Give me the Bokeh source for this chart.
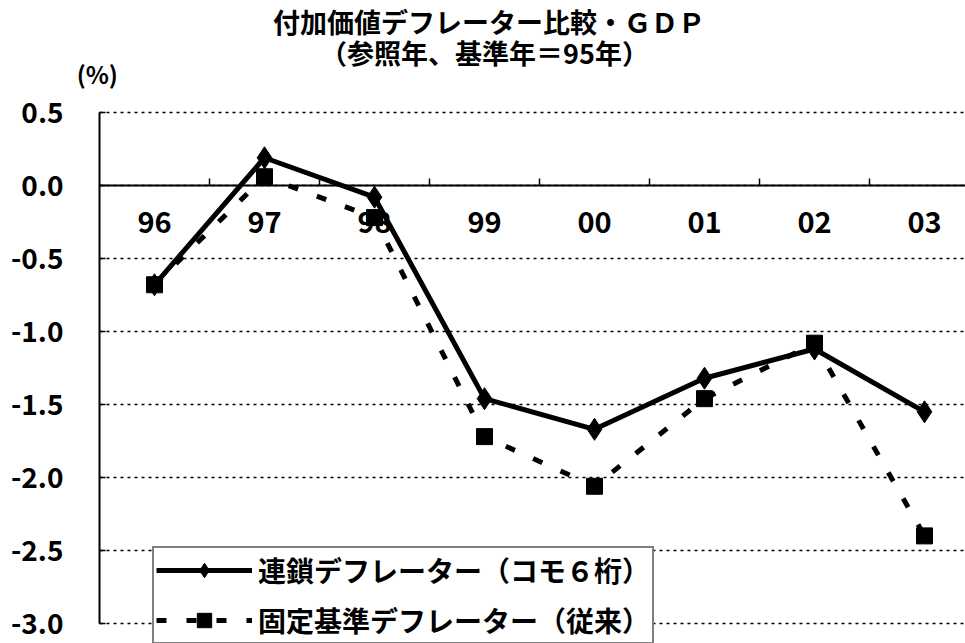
from bokeh.plotting import figure
from bokeh.models import (LinearAxis, FixedTicker, Range1d, Legend, Label,
                          LegendItem, ColumnDataSource)
from bokeh.embed import file_html
from bokeh.resources import INLINE

# ---- data ----
years = ["96", "97", "98", "99", "00", "01", "02", "03"]
chain = [-0.68, 0.19, -0.08, -1.46, -1.67, -1.32, -1.12, -1.55]
fixed = [-0.68, 0.06, -0.22, -1.72, -2.06, -1.46, -1.08, -2.40]
y_ticks = [0.5, 0.0, -0.5, -1.0, -1.5, -2.0, -2.5, -3.0]
y_tick_labels = ["0.5", "0.0", "-0.5", "-1.0", "-1.5", "-2.0", "-2.5", "-3.0"]
title_line1 = "付加価値デフレーター比較・ＧＤＰ"
title_line2 = "（参照年、基準年＝95年）"
unit_label = "(%)"
series_names = ["連鎖デフレーター（コモ６桁）", "固定基準デフレーター（従来）"]

FONT = "Noto Sans CJK JP"
W, H = 965, 643
xi = list(range(len(years)))

# view: the plot frame spans the whole canvas so titles and legend are not clipped
X0, X1 = -1.4, -1.4 + W / 110.0
Y0, Y1 = -3.0 - 20 / 146.0, 0.5 + 112 / 146.0

p = figure(width=W, height=H, title=None,
           x_range=Range1d(X0, X1), y_range=Range1d(Y0, Y1),
           x_axis_type=None, y_axis_type=None,
           toolbar_location=None, output_backend="svg",
           min_border_left=0, min_border_right=0,
           min_border_top=0, min_border_bottom=0)
p.outline_line_color = None
p.background_fill_color = "white"
p.border_fill_color = "white"

# dotted horizontal grid lines at the y ticks, from the y axis to the right edge
p.segment(x0=[xi[0] - 0.5] * len(y_ticks), x1=[X1] * len(y_ticks), y0=y_ticks, y1=y_ticks,
          line_color="black", line_width=1.5, line_dash="3 4")

# y axis at the left edge of the first category
yaxis = LinearAxis(fixed_location=xi[0] - 0.5, bounds=(min(y_ticks), max(y_ticks)),
                   ticker=FixedTicker(ticks=y_ticks),
                   major_label_overrides=dict(zip(y_ticks, y_tick_labels)),
                   axis_line_color="black", axis_line_width=2,
                   major_tick_in=6, major_tick_out=0, minor_tick_in=0, minor_tick_out=0,
                   major_tick_line_color="black", major_tick_line_width=1.5,
                   major_label_standoff=36,
                   major_label_text_font=FONT, major_label_text_font_size="28px",
                   major_label_text_font_style="bold", major_label_text_color="black")
p.add_layout(yaxis, "left")

# x axis, drawn at y = 0
xaxis = LinearAxis(fixed_location=0, bounds=(xi[0] - 0.5, X1),
                   ticker=FixedTicker(ticks=xi, minor_ticks=[i + 0.5 for i in xi]),
                   major_label_overrides=dict(zip(xi, years)),
                   axis_line_color="black", axis_line_width=2,
                   major_tick_in=0, major_tick_out=0,
                   minor_tick_in=7, minor_tick_out=0,
                   minor_tick_line_color="black", minor_tick_line_width=1.5,
                   major_label_standoff=25,
                   major_label_text_font=FONT, major_label_text_font_size="29px",
                   major_label_text_font_style="bold", major_label_text_color="black")
p.add_layout(xaxis, "below")

src = ColumnDataSource(dict(x=xi, chain=chain, fixed=fixed))
l2 = p.line("x", "fixed", source=src, line_color="black", line_width=5, line_dash="10 20")
m2 = p.scatter("x", "fixed", source=src, marker="square", size=16,
               fill_color="black", line_color="black")
l1 = p.line("x", "chain", source=src, line_color="black", line_width=5)
m1 = p.scatter("x", "chain", source=src, marker="diamond", size=22,
               fill_color="black", line_color="black")

legend = Legend(items=[LegendItem(label=series_names[0], renderers=[l1, m1]),
                       LegendItem(label=series_names[1], renderers=[l2, m2])],
                location=(152, -1), orientation="vertical",
                label_text_font=FONT, label_text_font_size="28px",
                label_text_font_style="bold", label_text_color="black",
                glyph_width=96, glyph_height=36, label_height=36,
                label_standoff=6, spacing=10, padding=2, margin=0,
                border_line_color="black", border_line_width=2,
                background_fill_color="white", background_fill_alpha=1.0)
p.add_layout(legend)

for txt, xx, yy, fs in [(title_line1, 3.04, 1.123, "27px"),
                        (title_line2, 3.00, 0.911, "27px"),
                        (unit_label, -0.52, 0.767, "24px")]:
    p.add_layout(Label(x=xx, y=yy, text=txt, text_align="center", text_baseline="middle",
                       text_font=FONT, text_font_size=fs, text_font_style="bold",
                       text_color="black"))

open("out.html", "w").write(file_html(p, INLINE))
